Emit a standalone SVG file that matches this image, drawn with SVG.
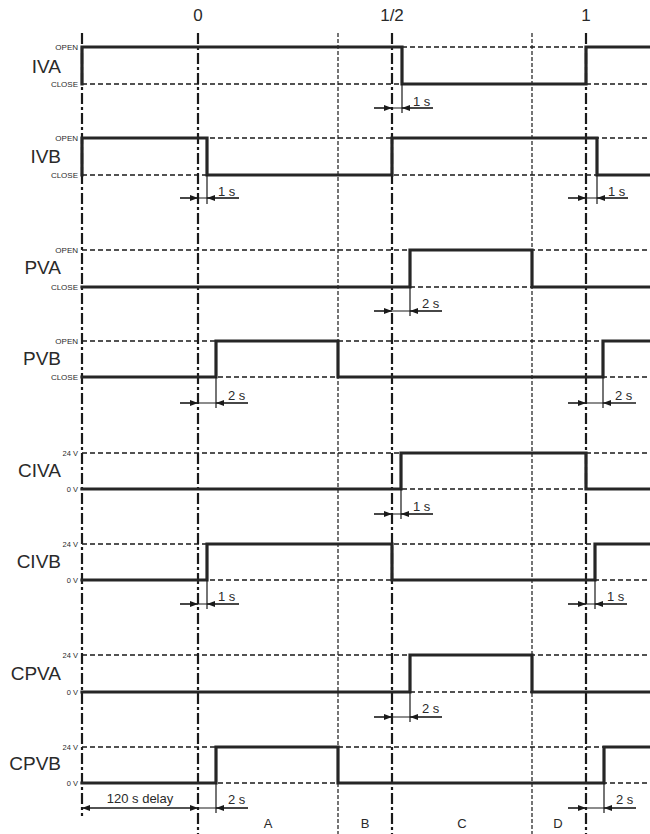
<svg xmlns="http://www.w3.org/2000/svg" width="650" height="834" viewBox="0 0 650 834">
<defs>
<style>
.bg{fill:#ffffff}
.axis{stroke:#1a1a1a;stroke-width:2.2;fill:none;stroke-dasharray:11 3 3 3}
.thin{stroke:#1a1a1a;stroke-width:1.2;fill:none;stroke-dasharray:4 2}
.ref{stroke:#1a1a1a;stroke-width:1.3;fill:none;stroke-dasharray:5 3}
.sig{stroke:#262626;stroke-width:3.2;fill:none;stroke-linejoin:miter;stroke-linecap:square}
.dim{stroke:#1a1a1a;stroke-width:1.2;fill:none}
.arr{stroke:#1a1a1a;stroke-width:1.2;fill:none;marker-end:url(#ah)}
.top{font-family:"Liberation Sans",Arial,sans-serif;font-size:17px;fill:#2a2a2a;text-anchor:middle}
.name{font-family:"Liberation Sans",Arial,sans-serif;font-size:19px;fill:#2a2a2a;text-anchor:end}
.lvl{font-family:"Liberation Sans",Arial,sans-serif;font-size:8px;fill:#2a2a2a;text-anchor:end}
.lvv{font-family:"Liberation Sans",Arial,sans-serif;font-size:7.5px;fill:#2a2a2a;text-anchor:end}
.dt{font-family:"Liberation Sans",Arial,sans-serif;font-size:13px;fill:#2a2a2a}
.ph{font-family:"Liberation Sans",Arial,sans-serif;font-size:13px;fill:#2a2a2a;text-anchor:middle}
</style>
<marker id="ah" viewBox="0 0 8 6" refX="8" refY="3" markerWidth="8" markerHeight="6" markerUnits="userSpaceOnUse" orient="auto">
<path d="M0,0 L8,3 L0,6 z" fill="#1a1a1a"/>
</marker>
</defs>
<rect class="bg" x="0" y="0" width="650" height="834"/>

<g id="grid">
<line class="axis" x1="82" y1="33" x2="82" y2="816"/>
<line class="axis" x1="198" y1="33" x2="198" y2="834"/>
<line class="thin" x1="338" y1="33" x2="338" y2="834"/>
<line class="axis" x1="392" y1="33" x2="392" y2="834"/>
<line class="thin" x1="532" y1="33" x2="532" y2="834"/>
<line class="axis" x1="586" y1="33" x2="586" y2="834"/>
<text class="top" x="198" y="21">0</text>
<text class="top" x="392" y="21">1/2</text>
<text class="top" x="586" y="21">1</text>
<text class="ph" x="268" y="828">A</text>
<text class="ph" x="365" y="828">B</text>
<text class="ph" x="462" y="828">C</text>
<text class="ph" x="558" y="828">D</text>
</g>

<g id="IVA">
<line class="ref" x1="82" y1="47" x2="650" y2="47"/>
<line class="ref" x1="82" y1="84" x2="650" y2="84"/>
<text class="name" x="61" y="73">IVA</text>
<text class="lvl" x="78" y="50">OPEN</text>
<text class="lvl" x="78" y="87">CLOSE</text>
<path class="sig" d="M82,84 V47 H402 V84 H586 V47 H650"/>
</g>

<g id="IVB">
<line class="ref" x1="82" y1="138" x2="650" y2="138"/>
<line class="ref" x1="82" y1="175" x2="650" y2="175"/>
<text class="name" x="61" y="163">IVB</text>
<text class="lvl" x="78" y="141">OPEN</text>
<text class="lvl" x="78" y="178">CLOSE</text>
<path class="sig" d="M82,175 V138 H207 V175 H392 V138 H597 V175 H650"/>
</g>

<g id="PVA">
<line class="ref" x1="82" y1="250" x2="650" y2="250"/>
<line class="ref" x1="82" y1="287" x2="650" y2="287"/>
<text class="name" x="61" y="274">PVA</text>
<text class="lvl" x="78" y="253">OPEN</text>
<text class="lvl" x="78" y="290">CLOSE</text>
<path class="sig" d="M82,287 H410 V250 H532 V287 H650"/>
</g>

<g id="PVB">
<line class="ref" x1="82" y1="341" x2="650" y2="341"/>
<line class="ref" x1="82" y1="377" x2="650" y2="377"/>
<text class="name" x="61" y="365">PVB</text>
<text class="lvl" x="78" y="344">OPEN</text>
<text class="lvl" x="78" y="380">CLOSE</text>
<path class="sig" d="M82,377 H216 V341 H338 V377 H603 V341 H650"/>
</g>

<g id="CIVA">
<line class="ref" x1="82" y1="453" x2="650" y2="453"/>
<line class="ref" x1="82" y1="489" x2="650" y2="489"/>
<text class="name" x="61" y="477">CIVA</text>
<text class="lvv" x="78" y="456">24 V</text>
<text class="lvv" x="78" y="492">0 V</text>
<path class="sig" d="M82,489 H401 V453 H586 V489 H650"/>
</g>

<g id="CIVB">
<line class="ref" x1="82" y1="544" x2="650" y2="544"/>
<line class="ref" x1="82" y1="580" x2="650" y2="580"/>
<text class="name" x="61" y="568">CIVB</text>
<text class="lvv" x="78" y="547">24 V</text>
<text class="lvv" x="78" y="583">0 V</text>
<path class="sig" d="M82,580 H207 V544 H392 V580 H595 V544 H650"/>
</g>

<g id="CPVA">
<line class="ref" x1="82" y1="655" x2="650" y2="655"/>
<line class="ref" x1="82" y1="692" x2="650" y2="692"/>
<text class="name" x="61" y="680">CPVA</text>
<text class="lvv" x="78" y="658">24 V</text>
<text class="lvv" x="78" y="695">0 V</text>
<path class="sig" d="M82,692 H410 V655 H532 V692 H650"/>
</g>

<g id="CPVB">
<line class="ref" x1="82" y1="747" x2="650" y2="747"/>
<line class="ref" x1="82" y1="783" x2="650" y2="783"/>
<text class="name" x="61" y="770">CPVB</text>
<text class="lvv" x="78" y="750">24 V</text>
<text class="lvv" x="78" y="786">0 V</text>
<path class="sig" d="M82,783 H216 V747 H338 V783 H604 V747 H650"/>
</g>

<g id="connectors">
<path class="dim" d="M402,84 V113 M374,108 H433"/>
<path class="arr" d="M374,108 H392"/><path class="arr" d="M433,108 H402"/>
<text class="dt" x="413" y="106">1 s</text>
<path class="dim" d="M207,175 V204 M180,198 H239"/>
<path class="arr" d="M180,198 H198"/><path class="arr" d="M239,198 H207"/>
<text class="dt" x="218" y="196">1 s</text>
<path class="dim" d="M597,175 V204 M568,198 H628"/>
<path class="arr" d="M568,198 H586"/><path class="arr" d="M628,198 H597"/>
<text class="dt" x="608" y="196">1 s</text>
<path class="dim" d="M410,287 V316 M374,311 H442"/>
<path class="arr" d="M374,311 H392"/><path class="arr" d="M442,311 H410"/>
<text class="dt" x="422" y="308">2 s</text>
<path class="dim" d="M216,377 V408 M180,403 H248"/>
<path class="arr" d="M180,403 H198"/><path class="arr" d="M248,403 H216"/>
<text class="dt" x="228" y="400">2 s</text>
<path class="dim" d="M603,377 V408 M568,403 H636"/>
<path class="arr" d="M568,403 H586"/><path class="arr" d="M636,403 H603"/>
<text class="dt" x="615" y="400">2 s</text>
<path class="dim" d="M401,489 V519 M374,514 H433"/>
<path class="arr" d="M374,514 H392"/><path class="arr" d="M433,514 H401"/>
<text class="dt" x="413" y="511">1 s</text>
<path class="dim" d="M207,580 V609 M180,604 H239"/>
<path class="arr" d="M180,604 H198"/><path class="arr" d="M239,604 H207"/>
<text class="dt" x="218" y="601">1 s</text>
<path class="dim" d="M595,580 V609 M568,604 H627"/>
<path class="arr" d="M568,604 H586"/><path class="arr" d="M627,604 H595"/>
<text class="dt" x="607" y="601">1 s</text>
<path class="dim" d="M410,692 V722 M374,717 H442"/>
<path class="arr" d="M374,717 H392"/><path class="arr" d="M442,717 H410"/>
<text class="dt" x="422" y="713">2 s</text>
<path class="dim" d="M216,783 V813 M82,808 H248"/>
<path class="arr" d="M140,808 H82"/><path class="arr" d="M140,808 H198"/><path class="arr" d="M248,808 H216"/>
<text class="ph" x="140" y="803">120 s delay</text>
<text class="dt" x="228" y="804">2 s</text>
<path class="dim" d="M604,783 V813 M568,808 H636"/>
<path class="arr" d="M568,808 H586"/><path class="arr" d="M636,808 H604"/>
<text class="dt" x="616" y="804">2 s</text>
</g>
</svg>
